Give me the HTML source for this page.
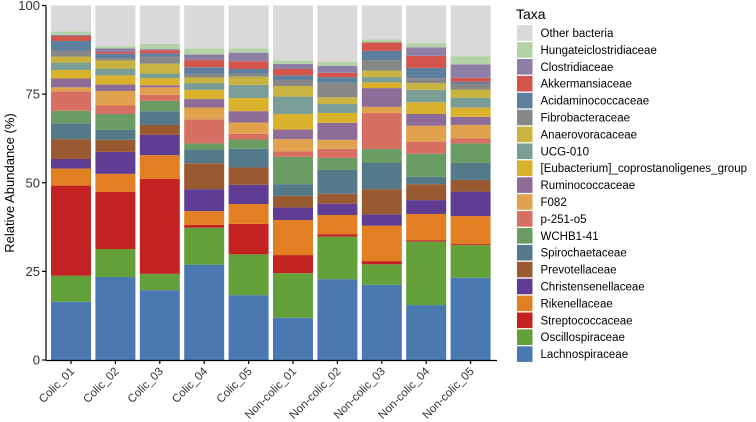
<!DOCTYPE html>
<html><head><meta charset="utf-8"><style>
body{margin:0;background:#fff;}
svg{display:block;font-family:"Liberation Sans",Arial,sans-serif;}
</style></head><body>
<svg id="chart" width="756" height="422"></svg>
<script>
const samples=["Colic_01","Colic_02","Colic_03","Colic_04","Colic_05","Non-colic_01","Non-colic_02","Non-colic_03","Non-colic_04","Non-colic_05"];
const taxa=["Lachnospiraceae","Oscillospiraceae","Streptococcaceae","Rikenellaceae","Christensenellaceae","Prevotellaceae","Spirochaetaceae","WCHB1-41","p-251-o5","F082","Ruminococcaceae","[Eubacterium]_coprostanoligenes_group","UCG-010","Anaerovoracaceae","Fibrobacteraceae","Acidaminococcaceae","Akkermansiaceae","Clostridiaceae","Hungateiclostridiaceae"];
const colors=["#4A78B1","#63A03A","#C42221","#E27F22","#5F3D94","#9A5A31","#547A8A","#6A9D63","#D77062","#E1A24E","#8E6C98","#DAB12C","#7A9E96","#C8B340","#878787","#5E7E9E","#D2544A","#8D7EA5","#B3D3A7"];
const otherColor="#D9D9D9";
const v_colic01=[16.4,7.4,25.4,4.8,2.7,5.6,4.5,3.5,5.5,1.1,2.5,2.4,2.1,1.7,1.7,2.7,1.4,0.3,1.0];
const v_colic02=[23.4,7.9,16.1,5.1,6.2,3.4,2.8,4.5,2.4,4.1,1.8,2.6,1.9,2.3,0.7,1.2,0.5,1.0,0.6];
const v_colic03=[19.7,4.6,26.8,6.7,5.7,2.8,3.9,2.9,1.7,2.1,0.6,2.0,1.3,2.8,2.0,0.9,0.9,0.3,1.5];
const v_colic04=[26.9,10.4,0.8,3.9,6.2,7.3,3.9,1.7,6.8,3.3,2.4,2.6,1.9,1.6,1.0,1.9,2.0,1.6,1.7];
const v_colic05=[18.3,11.5,8.6,5.6,5.4,4.9,5.3,2.6,1.6,3.2,3.2,3.7,3.7,2.3,0.9,1.3,2.2,2.4,1.2];
const v_nc01=[11.9,12.6,5.1,9.9,3.5,3.3,3.3,7.7,1.6,3.4,2.7,4.4,4.9,3.0,1.7,1.3,1.8,1.4,1.0];
const v_nc02=[22.8,12.0,0.7,5.4,3.2,2.8,6.7,3.4,2.6,2.5,4.8,2.8,2.5,1.9,4.1,1.6,1.2,2.0,1.1];
const v_nc03=[21.2,5.8,0.9,10.0,3.2,7.1,7.5,3.8,10.2,1.7,5.3,1.6,1.5,1.8,3.0,2.6,2.4,0.0,0.8];
const v_nc04=[15.5,17.9,0.4,7.4,3.9,4.5,2.1,6.5,3.4,4.5,3.3,3.3,3.5,1.9,1.4,2.9,3.4,2.4,1.2];
const v_nc05=[23.2,9.2,0.3,7.9,6.9,3.3,4.8,5.5,1.4,3.8,2.3,2.6,2.8,2.3,1.7,0.5,1.1,3.8,2.3];
const values=[v_colic01,v_colic02,v_colic03,v_colic04,v_colic05,v_nc01,v_nc02,v_nc03,v_nc04,v_nc05];
const yTicks=[0,25,50,75,100];

const NS="http://www.w3.org/2000/svg";
const svg=document.getElementById('chart');
function mk(tag,attrs,parent){const e=document.createElementNS(NS,tag);for(const k in attrs)e.setAttribute(k,attrs[k]);(parent||svg).appendChild(e);return e;}
const y0=360,y100=5.5;
const yS=v=>y0-(y0-y100)*v/100;
const xC=i=>71+i*44.4;
const bw=40;

values.forEach((vals,i)=>{
  const g=mk('g',{});
  
  
  let cum=0;
  vals.forEach((v,k)=>{
    const r=mk('rect',{x:xC(i)-bw/2,y:yS(cum+v),width:bw,height:Math.max(0,yS(cum)-yS(cum+v)),fill:colors[k]},g);
    
    
    cum+=v;
  });
  const o=mk('rect',{x:xC(i)-bw/2,y:yS(100),width:bw,height:yS(cum)-yS(100),fill:otherColor},g);
  
  
});

const ya=mk('line',{x1:46,y1:y100,x2:46,y2:y0,stroke:'#000','stroke-width':1.2});


const xa=mk('line',{x1:46,y1:y0+0.5,x2:497,y2:y0+0.5,stroke:'#000','stroke-width':1.2});


yTicks.forEach(t=>{
  mk('line',{x1:42,x2:46,y1:yS(t),y2:yS(t),stroke:'#000','stroke-width':1.2});
  const tx=mk('text',{x:40,y:yS(t)+4.5,'text-anchor':'end','font-size':13,fill:'#333'});
  tx.textContent=t;
  
  
});
samples.forEach((s,i)=>{
  mk('line',{x1:xC(i),x2:xC(i),y1:y0,y2:y0+4,stroke:'#000','stroke-width':1.2});
  const tx=mk('text',{x:xC(i)+4,y:y0+12,'text-anchor':'end','font-size':11.5,fill:'#333',transform:`rotate(-45 ${xC(i)+4} ${y0+12})`});
  tx.textContent=s;
  
  
});
const yt=mk('text',{x:14,y:183,'text-anchor':'middle','font-size':13,fill:'#000',transform:'rotate(-90 14 183)'});
yt.textContent='Relative Abundance (%)';



const lt=mk('text',{x:516,y:19,'font-size':14,fill:'#000'});
lt.textContent='Taxa';


const legNames=["Other bacteria"].concat(taxa.slice().reverse());
const legCols=[otherColor].concat(colors.slice().reverse());
legNames.forEach((n,j)=>{
  const cy=33+j*16.9;
  const g=mk('g',{});
  
  
  mk('rect',{x:517,y:cy-7.8,width:15.5,height:15.6,fill:legCols[j]},g);
  const tx=mk('text',{x:540.5,y:cy+4,'font-size':11.5,fill:'#000'},g);
  tx.textContent=n;
});
</script>
</body></html>
